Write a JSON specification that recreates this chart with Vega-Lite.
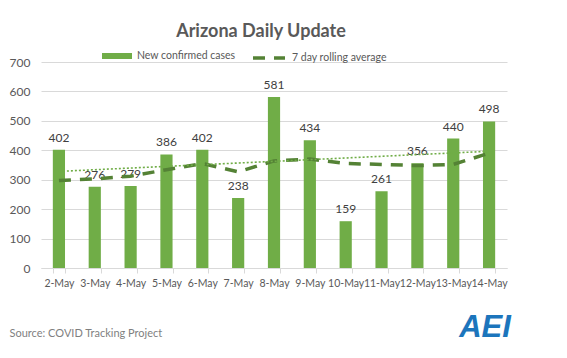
{
  "$schema": "https://vega.github.io/schema/vega-lite/v6.json",
  "width": 466,
  "height": 206,
  "autosize": {"type": "none"},
  "padding": {"left": 41, "top": 62, "right": 60, "bottom": 90},
  "background": "white",
  "config": {
    "font": "Lato",
    "view": {"stroke": null},
    "axis": {"labelFont": "Lato", "titleFont": "Lato"},
    "axisY": {
      "title": null,
      "values": [0, 100, 200, 300, 400, 500, 600, 700],
      "labelOverlap": false,
      "domain": false,
      "ticks": false,
      "labelFontSize": 12,
      "labelColor": "#595959",
      "labelPadding": 11,
      "gridColor": "#D9D9D9"
    },
    "legend": {"labelFont": "Lato"}
  },
  "title": {
    "text": "Arizona Daily Update",
    "fontSize": 18,
    "fontWeight": "bold",
    "color": "#595959",
    "anchor": "middle",
    "frame": "group",
    "dx": -13,
    "dy": 4,
    "offset": 3,
    "font": "Lato"
  },
  "datasets": {
    "covid": [
      {"day": "2-May", "d": 1, "cases": 402, "avg": 297},
      {"day": "3-May", "d": 2, "cases": 276, "avg": 303},
      {"day": "4-May", "d": 3, "cases": 279, "avg": 312},
      {"day": "5-May", "d": 4, "cases": 386, "avg": 334},
      {"day": "6-May", "d": 5, "cases": 402, "avg": 355},
      {"day": "7-May", "d": 6, "cases": 238, "avg": 327},
      {"day": "8-May", "d": 7, "cases": 581, "avg": 364},
      {"day": "9-May", "d": 8, "cases": 434, "avg": 370},
      {"day": "10-May", "d": 9, "cases": 159, "avg": 355},
      {"day": "11-May", "d": 10, "cases": 261, "avg": 352},
      {"day": "12-May", "d": 11, "cases": 356, "avg": 348},
      {"day": "13-May", "d": 12, "cases": 440, "avg": 352},
      {"day": "14-May", "d": 13, "cases": 498, "avg": 390}
    ]
  },
  "data": {"name": "covid"},
  "encoding": {
    "x": {
      "field": "day",
      "type": "nominal",
      "scale": {
        "domain": ["2-May", "3-May", "4-May", "5-May", "6-May", "7-May", "8-May", "9-May", "10-May", "11-May", "12-May", "13-May", "14-May"],
        "paddingInner": 0.66,
        "paddingOuter": 0.33
      },
      "axis": {
        "title": "Source: COVID Tracking Project",
        "titleAnchor": "start",
        "titleAlign": "left",
        "titleX": -32,
        "titleY": 65,
        "titleBaseline": "middle",
        "titleFontSize": 11,
        "titleFontWeight": "normal",
        "titleColor": "#7F7F7F",
        "labelAngle": 0,
        "labelFontSize": 10.5,
        "labelColor": "#595959",
        "labelPadding": 5,
        "labelOverlap": false,
        "domainColor": "#D9D9D9",
        "tickColor": "#D9D9D9",
        "tickBand": "extent",
        "tickSize": 5,
        "grid": false
      }
    }
  },
  "layer": [
    {
      "mark": {"type": "bar", "color": "#70AD47"},
      "encoding": {
        "y": {
          "field": "cases",
          "type": "quantitative",
          "title": null,
          "scale": {"domain": [0, 700], "nice": false}
        },
        "color": {
          "datum": "New confirmed cases",
          "type": "nominal",
          "scale": {"range": ["#70AD47"]},
          "legend": {
            "title": null,
            "orient": "none",
            "legendX": 61,
            "legendY": -21,
            "symbolType": "M-1,-0.2H1V0.2H-1Z",
            "symbolSize": 900,
            "symbolStrokeWidth": 0,
            "labelFontSize": 10.5,
            "labelColor": "#595959",
            "labelOffset": 5
          }
        }
      }
    },
    {
      "mark": {"type": "text", "dy": -5, "baseline": "bottom", "fontSize": 12, "color": "#404040"},
      "encoding": {
        "y": {"field": "cases", "type": "quantitative", "title": null},
        "text": {"field": "cases", "type": "quantitative"}
      }
    },
    {
      "mark": {"type": "line", "color": "#548235", "strokeWidth": 3.5},
      "encoding": {
        "y": {"field": "avg", "type": "quantitative", "title": null},
        "strokeDash": {
          "datum": "7 day rolling average",
          "type": "nominal",
          "scale": {"range": [[12, 9]]},
          "legend": {
            "title": null,
            "orient": "none",
            "legendX": 210,
            "legendY": -22,
            "symbolType": "stroke",
            "symbolSize": 1024,
            "symbolStrokeWidth": 3.5,
            "symbolStrokeColor": "#548235",
            "symbolDash": [12, 9],
            "labelFontSize": 10.5,
            "labelColor": "#595959",
            "labelOffset": 5
          }
        }
      }
    },
    {
      "transform": [
        {"regression": "cases", "on": "d"},
        {"lookup": "d", "from": {"data": {"name": "covid"}, "key": "d", "fields": ["day"]}}
      ],
      "mark": {"type": "line", "color": "#70AD47", "strokeWidth": 1.6, "strokeDash": [2, 2]},
      "encoding": {
        "y": {"field": "cases", "type": "quantitative", "title": null}
      }
    },
    {
      "data": {"values": [{"logo": "AEI"}]},
      "mark": {"type": "text", "fontSize": 31, "fontWeight": "bold", "fontStyle": "italic", "color": "#1C75BC", "font": "Liberation Sans", "baseline": "middle", "dx": -4},
      "encoding": {
        "x": {"datum": "14-May"},
        "y": {"datum": -204, "type": "quantitative", "title": null},
        "text": {"field": "logo", "type": "nominal"}
      }
    }
  ]
}
